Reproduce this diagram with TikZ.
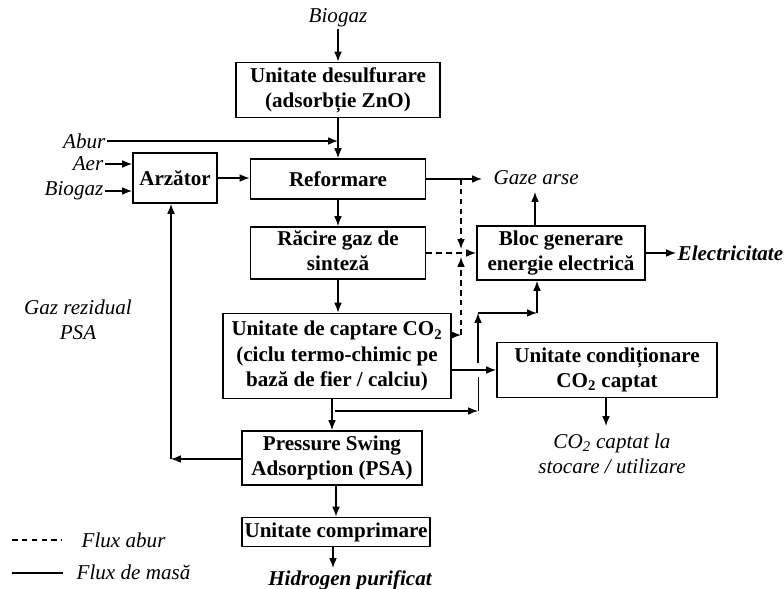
\documentclass[tikz,border=0pt]{standalone}
\usepackage{fontspec}
\setmainfont{Liberation Serif}
\usetikzlibrary{arrows.meta}
\usetikzlibrary{calc}
\newcommand{\figfont}{\fontsize{15}{17.8}\selectfont}
\newcommand{\cotwo}{CO\textsubscript{2}}
\tikzstyle{unit}=[rectangle, draw=black, line width=1.3pt, inner sep=0pt, text centered, font=\figfont\bfseries]
\tikzstyle{lbl}=[inner sep=1pt, font=\figfont\itshape]
\tikzstyle{flow}=[draw,->,>={Latex[length=7pt,width=5.5pt]}, line width=0.95pt]
\tikzstyle{steam}=[flow, dash pattern=on 4pt off 3pt]

\begin{document}
\begin{tikzpicture}[x=0.025cm, y=-0.025cm]
\useasboundingbox (0,0) rectangle (784,589);

\node[unit, minimum width=5.1cm, minimum height=1.375cm] (desulf) at (338,90)
{
\begin{tabular}{c}
Unitate desulfurare\\
(adsorbție ZnO)
\end{tabular}
};

\node[unit, minimum width=4.375cm, minimum height=1cm] (reform) at (338,179)
{Reformare};

\node[unit, minimum width=2.1cm, minimum height=1.25cm] (arzator) at (175,178)
{Arzător};

\node[unit, minimum width=4.375cm, minimum height=1.3cm] (racire) at (338,253)
{
\begin{tabular}{c}
Răcire gaz de\\
sinteză
\end{tabular}
};

\node[unit, minimum width=5.525cm, minimum height=2.125cm] (captare) at (337,356)
{
\begin{tabular}{c}
Unitate de captare \cotwo\\
(ciclu termo-chimic pe\\
bază de fier / calciu)
\end{tabular}
};

\node[unit, minimum width=4.5cm, minimum height=1.35cm] (psa) at (332,458)
{
\begin{tabular}{c}
Pressure Swing\\
Adsorption (PSA)
\end{tabular}
};

\node[unit, minimum width=4.7cm, minimum height=0.725cm] (compr) at (336,532)
{Unitate comprimare};

\node[unit, minimum width=4.2cm, minimum height=1.35cm] (bloc) at (561,253)
{
\begin{tabular}{c}
Bloc generare\\
energie electrică
\end{tabular}
};

\node[unit, minimum width=5.5cm, minimum height=1.375cm] (cond) at (607,370)
{
\begin{tabular}{c}
Unitate condiționare\\
\cotwo{} captat
\end{tabular}
};

% inputs and outputs
\node[lbl] (biogas1) at (338,18) {Biogaz};
\node[lbl, anchor=east] (abur) at (107,141) {Abur};
\node[lbl, anchor=east] (aer) at (105,164) {Aer};
\node[lbl, anchor=east] (biogas2) at (105,191) {Biogaz};
\node[lbl, anchor=west] (gaze) at (492,178) {Gaze arse};
\node[lbl, anchor=west, font=\figfont\bfseries\itshape] (elec) at (676,253) {Electricitate};
\node[lbl] (rezid) at (78,322)
{
\begin{tabular}{c}
Gaz rezidual\\
PSA
\end{tabular}
};
\node[lbl] (co2out) at (612,456)
{
\begin{tabular}{c}
\cotwo{} captat la\\
stocare / utilizare
\end{tabular}
};
\node[lbl, font=\figfont\bfseries\itshape] (hydro) at (350,580) {Hidrogen purificat};

% legend
\node[lbl, anchor=west] (fabur) at (80,540) {Flux abur};
\node[lbl, anchor=west] (fmasa) at (75,572) {Flux de masă};
\coordinate (la1) at (12,540);
\coordinate (la2) at (62,540);
\coordinate (lm1) at (12,573);
\coordinate (lm2) at (63,573);

% junctions
\coordinate (jtop) at (461,249);
\coordinate (jbot) at (461,257);
\coordinate (cs) at (461,335);
\coordinate (br) at (335,411);
\coordinate (bu) at (478,411);
\coordinate (gl) at (478,377);
\coordinate (gh) at (478,363);
\coordinate (bt) at (478,313);
\coordinate (bb) at (537,313);
\coordinate (gaup) at (535,192);
\coordinate (gatip) at (482,178);
\coordinate (co2in) at (606,426);
\coordinate (rz) at (171,459);
\coordinate (h2in) at (333,568);

\draw[flow] (biogas1.south) -- (desulf.north);
\draw[flow] (desulf.south) -- (reform.north);
\draw[flow] (abur.east) -- (abur.east -| desulf.south);
\draw[flow] (aer.east) -- (aer.east -| arzator.west);
\draw[flow] (biogas2.east) -- (biogas2.east -| arzator.west);
\draw[flow] (arzator.east) -- (arzator.east -| reform.west);
\draw[flow] (reform.east) -- (reform.east -| gatip);
\draw[flow] (reform.south) -- (racire.north);
\draw[flow] (racire.south) -- (racire.south |- captare.north);
\draw[flow] (psa.north |- captare.south) -- (psa.north);
\draw[flow] (captare.east |- cond.west) -- (cond.west);
\draw[flow] (br) -- (bu);
\draw (bu) -- (gl);
\draw[flow] (gh) -- (bt);
\draw[flow] (bt) -- (bb);
\draw[flow] (bb) -- (bb |- bloc.south);
\draw[flow] (bloc.north -| gaup) -- (gaup);
\draw[flow] (bloc.east) -- (elec.west);
\draw[flow] (cond.south -| co2in) -- (co2in);
\draw[flow] (psa.west |- rz) -- (rz);
\draw[flow] (rz) -- (rz |- arzator.south);
\draw[flow] (psa.south -| compr.north) -- (compr.north);
\draw[flow] (compr.south -| h2in) -- (h2in);

\draw[steam] (reform.east -| jtop) -- (jtop);
\draw[steam] (cs) -- (jbot);
\draw[steam] (captare.east |- cs) -- (cs);
\draw[steam] (racire.east) -- (racire.east -| bloc.west);

\draw[steam, -] (la1) -- (la2);
\draw[flow, -] (lm1) -- (lm2);

\end{tikzpicture}
\end{document}
